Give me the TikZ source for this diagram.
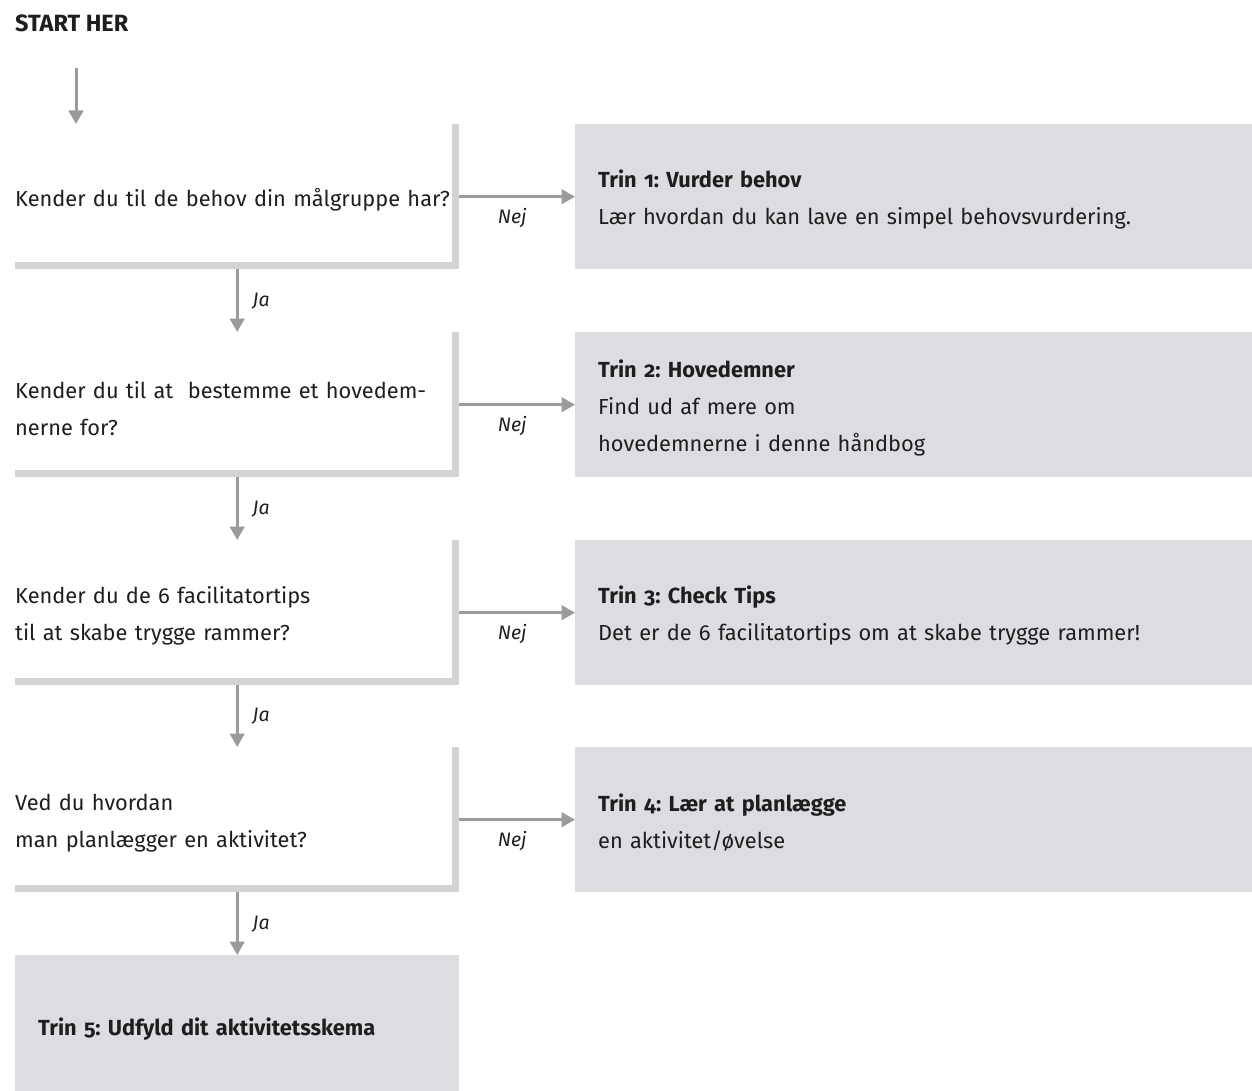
\documentclass[tikz,border=0pt]{standalone}
\usepackage{fontspec}
\setmainfont{Fira Sans}[Numbers=OldStyle]
\frenchspacing
\usetikzlibrary{arrows.meta,positioning}
\definecolor{cbar}{HTML}{D2D3D5}
\definecolor{cbox}{HTML}{DCDDE0}
\definecolor{carrow}{HTML}{9A9B9D}
\definecolor{ctext}{HTML}{1E1E1E}

\tikzset{
  body/.style={font=\fontsize{21.8}{37}\selectfont, text=ctext,
    execute at begin node={\rule{0pt}{24pt}}},
  question/.style={body, anchor=north west, inner sep=0pt, text width=444pt,
    align=left, minimum width=444pt, minimum height=145pt},
  stepbox/.style={body, anchor=north west, fill=cbox, inner xsep=23pt,
    inner ysep=0pt, text width=631pt, align=left, minimum height=145pt},
  arr/.style={draw=carrow, line width=3pt,
    -{Triangle[width=14.5pt, length=13.5pt]}},
  answer/.style={font=\fontsize{19.5}{20}\selectfont\itshape, text=ctext,
    inner sep=0pt},
}

\begin{document}
\begin{tikzpicture}[x=1pt, y=-1pt]
  \useasboundingbox (0,0) rectangle (1252,1091);

  \node[anchor=north west, inner sep=0pt, text=ctext,
        font=\fontsize{23.5}{26}\selectfont\bfseries] (start) at (15,15) {START HER};

  % questions
  \node[question] (q1) at (15,124) {Kender du til de behov din målgruppe har?};
  \node[question] (q2) at (15,332) {Kender du til at\ \ bestemme et hovedem-\\nerne for?};
  \node[question] (q3) at (15,540) {Kender du de 6 facilitatortips\\til at skabe trygge rammer?};
  \node[question] (q4) at (15,747) {Ved du hvordan\\man planlægger en aktivitet?};

  % steps
  \node[stepbox] (s1) at (575,124) {\textbf{Trin 1: Vurder behov}\\Lær hvordan du kan lave en simpel behovsvurdering.};
  \node[stepbox] (s2) at (575,332) {\textbf{Trin 2: Hovedemner}\\Find ud af mere om\\hovedemnerne i denne håndbog};
  \node[stepbox] (s3) at (575,540) {\textbf{Trin 3: Check Tips}\\Det er de 6 facilitatortips om at skabe trygge rammer!};
  \node[stepbox] (s4) at (575,747) {\textbf{Trin 4: Lær at planlægge}\\en aktivitet/øvelse};
  \node[stepbox, text width=398pt, minimum height=136pt,
        execute at begin node={\rule{0pt}{30pt}}] (s5) at (15,955)
       {\textbf{Trin 5: Udfyld dit aktivitetsskema}};

  % L-shaped frames
  \foreach \q in {q1,q2,q3,q4} {
    \fill[cbar] ([xshift=-7.5pt]\q.north east) rectangle (\q.south east);
    \fill[cbar] ([yshift=7.5pt]\q.south west) rectangle (\q.south east);
  }

  \coordinate (in) at (76,68);
  \draw[arr] (in) -- (in |- q1.north);

  \foreach \i in {1,2,3,4}
    \draw[arr] (q\i.east) -- (s\i.west)
      node[answer, midway, xshift=-5pt, yshift=-21pt] {Nej};

  \foreach \i/\j in {1/2,2/3,3/4}
    \draw[arr] (q\i.south) -- (q\j.north)
      node[answer, midway, anchor=west, xshift=14pt] {Ja};
  \draw[arr] (q4.south) -- (s5.north)
    node[answer, midway, anchor=west, xshift=14pt] {Ja};
\end{tikzpicture}
\end{document}
